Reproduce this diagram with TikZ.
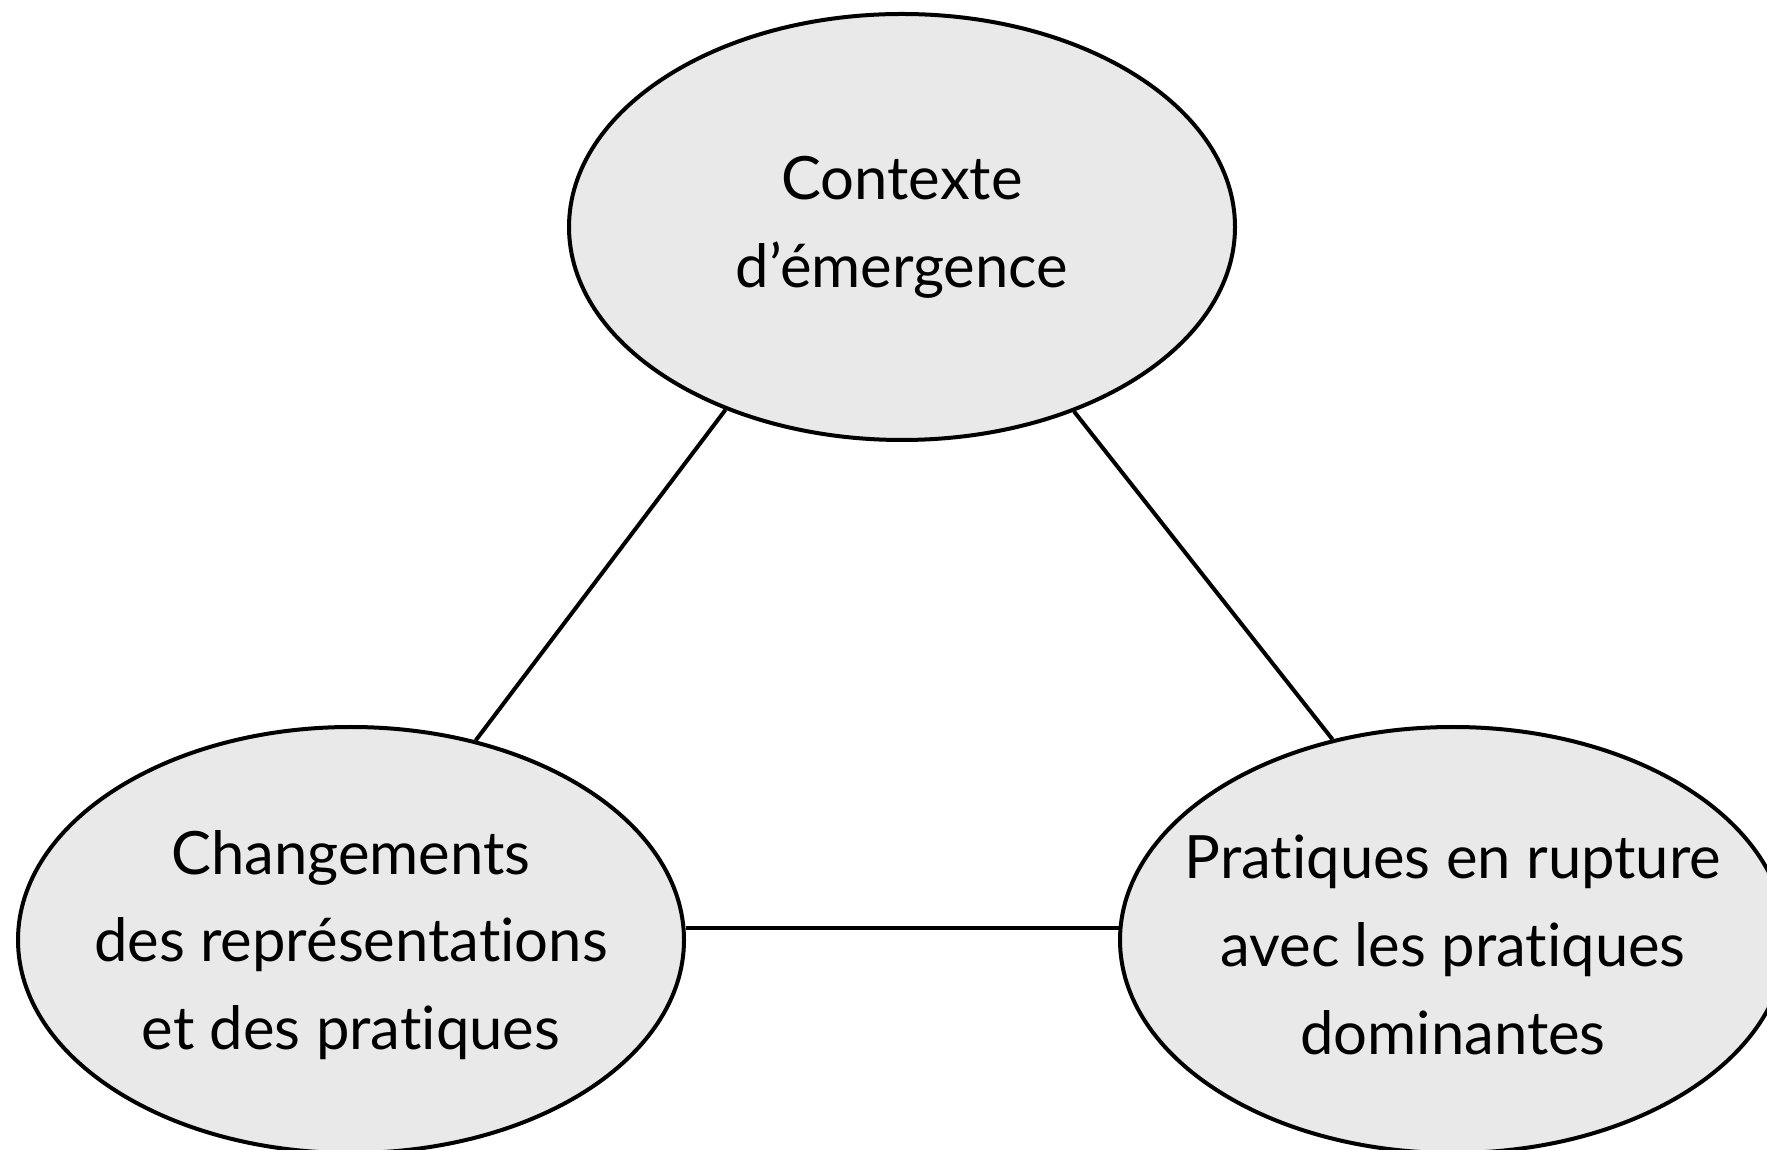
\documentclass[tikz,border=0pt]{standalone}
\usepackage{fontspec}
\setmainfont[Ligatures={NoCommon,NoRequired,NoContextual}]{Lato}
\usepackage{xcolor}
\usepackage{tikz}
\usetikzlibrary{shapes.geometric}

\definecolor{bubblegray}{RGB}{233,233,233}

\begin{document}
\begin{tikzpicture}[
    bubble/.style={shape=ellipse, draw=black, fill=bubblegray, line width=0.4mm,
        inner sep=0pt, minimum width=6.66cm, minimum height=4.26cm},
    bubbletext/.style={align=center, font=\fontsize{17}{25}\selectfont}
  ]
            \useasboundingbox (0, 0) rectangle (17.67, -11.5);

            \node[bubble, label={[bubbletext]center:{Contexte\\d’émergence}}] (ctx) at (9.02, -2.27) {};
            \node[bubble, label={[bubbletext, yshift=-0.05cm]center:{Changements\\des représentations\\et des pratiques}}] (chg) at (3.51, -9.40) {};
            \node[bubble, label={[bubbletext, yshift=-0.05cm]center:{Pratiques en rupture\\avec les pratiques\\dominantes}}] (rup) at (14.53, -9.40) {};

            \path[line width=0.4mm] (ctx.226.6) edge (chg.58.8);
            \path[line width=0.4mm] (ctx.313.4) edge (rup.121.2);
            \path[line width=0.4mm] (chg.2) edge (rup.178);

        \end{tikzpicture}
\end{document}
